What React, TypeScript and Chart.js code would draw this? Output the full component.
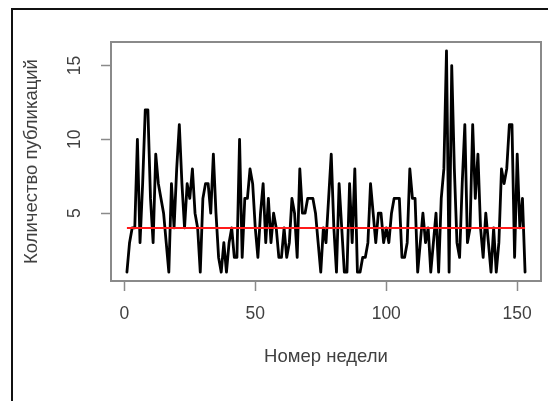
import React, { useEffect, useRef } from 'react';
import { Chart, registerables } from 'chart.js';

Chart.register(...registerables);

// Weekly number of publications (weeks 1..153)
const weeklyCounts: number[] = [
  1, 3, 4, 4, 10, 3, 7, 12, 12, 6,
  3, 9, 7, 6, 5, 3, 1, 7, 4, 8,
  11, 7, 4, 7, 6, 8, 5, 4, 1, 6,
  7, 7, 5, 9, 5, 2, 1, 3, 1, 3,
  4, 2, 2, 10, 2, 6, 6, 8, 7, 4,
  2, 5, 7, 3, 6, 3, 5, 4, 2, 2,
  4, 2, 3, 6, 5, 2, 8, 5, 5, 6,
  6, 6, 5, 3, 1, 4, 3, 6, 9, 4,
  1, 7, 4, 1, 1, 7, 3, 8, 1, 1,
  2, 2, 3, 7, 5, 3, 5, 5, 3, 4,
  3, 5, 6, 6, 6, 2, 2, 3, 8, 6,
  6, 1, 3, 5, 3, 4, 1, 3, 5, 1,
  6, 8, 16, 1, 15, 8, 3, 2, 7, 11,
  3, 4, 11, 6, 9, 4, 2, 5, 3, 1,
  4, 1, 3, 8, 7, 8, 11, 11, 2, 9,
  4, 6, 1,
];
const referenceLevel = 4;
const xTickValues = [0, 50, 100, 150];
const yTickValues = [5, 10, 15];
const xTitle = 'Номер недели';
const yTitle = 'Количество публикаций';

const FONT = "'Liberation Sans', Arial, sans-serif";
const TEXT = '#404040';
const AXIS_GRAY = '#8a8a8a';

const framePlugin = {
  id: 'rFrame',
  afterDraw(chart: any) {
    const { ctx, chartArea: a } = chart;
    ctx.save();
    ctx.strokeStyle = AXIS_GRAY;
    ctx.lineWidth = 2;
    ctx.strokeRect(a.left, a.top, a.right - a.left, a.bottom - a.top);
    ctx.strokeStyle = '#111111';
    ctx.lineWidth = 2;
    ctx.beginPath();
    ctx.moveTo(12, 401);
    ctx.lineTo(12, 9);
    ctx.lineTo(548, 9);
    ctx.stroke();
    ctx.restore();
  },
};

export default function App() {
  const ref = useRef<HTMLCanvasElement>(null);

  useEffect(() => {
    if (!ref.current) return;
    const weeks = weeklyCounts.map((_, i) => i + 1);
    const first = weeks[0];
    const last = weeks[weeks.length - 1];
    const xPad = (last - first) * 0.04;
    const yLo = Math.min(...weeklyCounts);
    const yHi = Math.max(...weeklyCounts);
    const yPad = (yHi - yLo) * 0.04;

    const chart = new Chart(ref.current, {
      type: 'line',
      data: {
        datasets: [
          {
            label: 'level',
            data: [
              { x: first, y: referenceLevel },
              { x: last, y: referenceLevel },
            ],
            borderColor: '#ff1a1a',
            borderWidth: 2,
            pointRadius: 0,
            order: 0,
          },
          {
            label: 'counts',
            data: weeks.map((w, i) => ({ x: w, y: weeklyCounts[i] })),
            borderColor: '#000000',
            borderWidth: 2.8,
            borderJoinStyle: 'round',
            borderCapStyle: 'round',
            pointRadius: 0,
            tension: 0,
            order: 1,
          },
        ],
      },
      options: {
        responsive: false,
        animation: false,
        devicePixelRatio: 1,
        layout: { padding: { left: 0, right: 7, top: 42, bottom: 0 } },
        plugins: {
          legend: { display: false },
          tooltip: { enabled: false },
        },
        scales: {
          x: {
            type: 'linear',
            position: 'bottom',
            min: first - xPad,
            max: last + xPad,
            afterBuildTicks: (s: any) => {
              s.ticks = xTickValues.map((v) => ({ value: v }));
            },
            afterFit: (s: any) => {
              s.height = 120;
            },
            grid: {
              display: true,
              drawOnChartArea: false,
              drawTicks: true,
              tickLength: 10,
              tickColor: AXIS_GRAY,
              tickWidth: 1.5,
            },
            border: { display: false },
            ticks: {
              maxRotation: 0,
              minRotation: 0,
              padding: 13,
              color: TEXT,
              font: { family: FONT, size: 17.5 },
            },
            title: {
              display: true,
              text: xTitle,
              color: TEXT,
              font: { family: FONT, size: 18.5 },
              padding: { top: 33, bottom: 33 },
            },
          },
          y: {
            type: 'linear',
            position: 'left',
            min: yLo - yPad,
            max: yHi + yPad,
            afterBuildTicks: (s: any) => {
              s.ticks = yTickValues.map((v) => ({ value: v }));
            },
            afterFit: (s: any) => {
              s.width = 111;
            },
            grid: {
              display: true,
              drawOnChartArea: false,
              drawTicks: true,
              tickLength: 10,
              tickColor: AXIS_GRAY,
              tickWidth: 1.5,
            },
            border: { display: false },
            ticks: {
              minRotation: 90,
              maxRotation: 90,
              crossAlign: 'center',
              padding: 16,
              color: TEXT,
              font: { family: FONT, size: 17.5 },
            },
            title: {
              display: true,
              text: yTitle,
              color: TEXT,
              font: { family: FONT, size: 18.5 },
              padding: { top: 21, bottom: 21 },
            },
          },
        },
      },
      plugins: [framePlugin],
    });
    return () => chart.destroy();
  }, []);

  return (
    <div style={{ position: 'fixed', left: 0, top: 0, width: 548, height: 401, background: '#fff' }}>
      <canvas ref={ref} width={548} height={401} style={{ display: 'block' }} />
    </div>
  );
}
